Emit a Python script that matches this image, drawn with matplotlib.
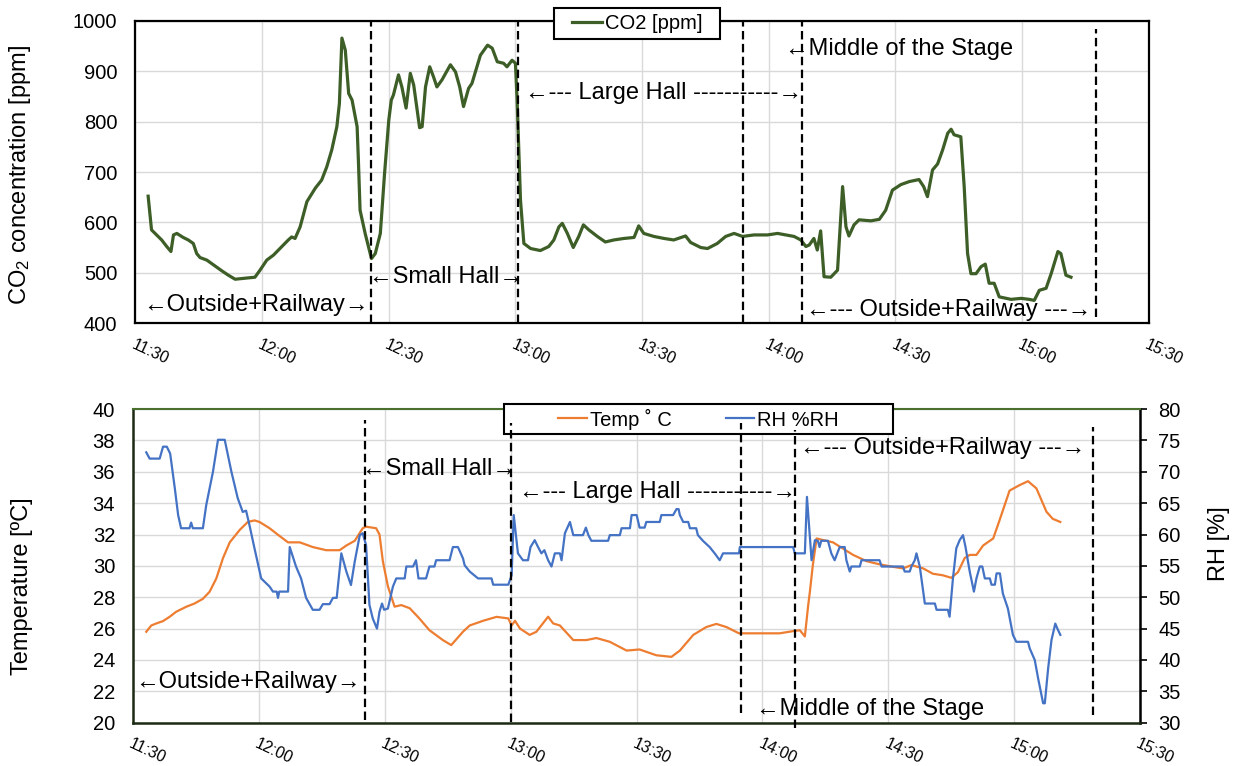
import matplotlib
matplotlib.use("Agg")
import matplotlib.pyplot as plt
from matplotlib.patches import Rectangle

plt.rcParams["font.family"] = ["Liberation Sans", "DejaVu Sans"]
plt.rcParams["mathtext.fontset"] = "custom"
plt.rcParams["mathtext.rm"] = "Liberation Sans"
plt.rcParams["mathtext.it"] = "Liberation Sans:italic"

# time axis in minutes after 11:30
tick_minutes = [0, 30, 60, 90, 120, 150, 180, 210, 240]
tick_labels = ["11:30", "12:00", "12:30", "13:00", "13:30", "14:00", "14:30", "15:00", "15:30"]

co2_t = [3.0, 3.8, 5.0, 6.2, 7.4, 8.4, 9.0, 9.8, 11.3, 12.5, 13.7, 14.5, 15.3, 16.9, 18.9, 20.4,
         22.0, 23.6, 26.0, 28.3, 29.5, 31.1, 32.7, 34.7, 36.2, 37.0, 37.8, 39.0, 40.6, 42.6, 44.1,
         45.3, 46.5, 47.7, 48.3, 48.9, 49.7, 50.5, 51.3, 52.5, 52.8, 53.2, 54.4, 55.9, 56.8, 58.0,
         59.0, 60.0, 60.6, 61.1, 62.3, 63.1, 64.1, 65.1, 65.9, 67.3, 67.9, 68.7, 69.7, 70.6, 71.4,
         72.6, 74.6, 75.8, 76.8, 77.7, 78.9, 79.7, 81.7, 83.4, 84.5, 85.7, 87.2, 88.0, 89.2, 90.0,
         90.4, 91.2, 92.0, 93.6, 95.9, 97.9, 99.1, 100.3, 101.1, 102.3, 103.7, 105.0, 106.1, 107.4,
         109.4, 111.3, 113.3, 115.7, 118.1, 119.2, 120.4, 122.8, 125.2, 127.5, 130.3, 131.5, 133.9,
         135.5, 137.8, 139.8, 141.8, 143.8, 146.5, 149.7, 152.1, 156.0, 157.6, 158.8, 159.6, 160.7,
         161.5, 162.3, 163.1, 164.7, 166.3, 167.5, 168.3, 169.0, 170.2, 171.4, 174.2, 176.2, 177.7,
         179.3, 181.3, 183.3, 185.6, 186.7, 187.6, 188.8, 190.0, 191.2, 192.4, 193.2, 193.9, 195.5,
         196.3, 197.1, 197.9, 199.1, 200.3, 201.3, 202.2, 203.4, 204.6, 207.4, 209.8, 211.7, 212.9,
         214.1, 215.7, 216.9, 218.5, 219.2, 220.4, 221.6]
co2_ppm = [652, 585, 575, 565, 552, 542, 575, 578, 570, 565, 558, 538, 530, 525, 513, 504,
           495, 487, 489, 491, 505, 525, 535, 552, 565, 571, 568, 591, 641, 668, 684,
           710, 744, 790, 836, 966, 942, 856, 843, 790, 724, 624, 578, 528, 538, 578,
           697, 803, 843, 853, 893, 869, 827, 896, 873, 788, 790, 869, 909, 889, 869,
           883, 913, 899, 869, 830, 866, 876, 932, 952, 946, 919, 916, 909, 922, 916,
           843, 644, 558, 548, 544, 552, 565, 591, 598, 578, 550, 572, 595, 585,
           572, 561, 565, 568, 570, 593, 578, 572, 568, 565, 573, 560, 550,
           548, 558, 572, 578, 572, 575, 575, 578, 572, 565, 552, 555, 568,
           545, 583, 492, 491, 505, 671, 591, 573, 595, 605, 603, 606, 624,
           664, 675, 681, 685, 671, 651, 704, 716, 744, 777, 785, 774, 770,
           671, 538, 498, 498, 512, 517, 479, 479, 452, 447, 449, 447, 445,
           465, 469, 498, 542, 538, 495, 491]

temp_t = [3.1, 4.3, 5.5, 7.1, 8.7, 10.2, 12.6, 14.6, 16.6, 18.2, 19.8, 21.4, 23.0, 25.4, 27.3,
          28.9, 30.1, 32.5, 34.9, 36.9, 39.7, 42.8, 46.0, 49.2, 50.8, 52.8, 54.7, 55.5, 57.9,
          58.7, 59.5, 60.7, 62.3, 63.9, 65.9, 68.2, 70.6, 73.8, 75.8, 78.6, 80.2, 83.4, 86.6,
          89.4, 90.2, 91.0, 92.2, 94.5, 96.1, 98.9, 100.1, 101.7, 104.9, 108.0, 110.4, 113.6,
          117.6, 120.7, 124.7, 128.3, 130.3, 133.5, 136.6, 139.0, 141.4, 144.4, 149.3, 154.1,
          157.3, 158.9, 160.1, 160.9, 161.3, 162.0, 162.9, 164.4, 166.8, 169.2, 171.6, 174.8,
          177.9, 181.1, 183.5, 185.5, 188.3, 190.6, 193.0, 195.0, 196.6, 198.2, 199.4, 201.0,
          202.6, 205.0, 206.5, 208.9, 211.3, 213.3, 215.3, 217.7, 219.2, 221.0]
temp_c = [25.8, 26.2, 26.33, 26.48, 26.76, 27.07, 27.39, 27.6, 27.9, 28.35, 29.2, 30.5, 31.5, 32.3, 32.8,
          32.9, 32.8, 32.4, 31.9, 31.5, 31.5, 31.2, 31.0, 31.0, 31.3, 31.6, 32.4, 32.5, 32.4,
          32.0, 30.3, 28.7, 27.4, 27.5, 27.3, 26.65, 25.9, 25.27, 24.95, 25.8, 26.2, 26.5, 26.75,
          26.65, 26.2, 26.5, 26.0, 25.6, 25.8, 26.76, 26.33, 26.2, 25.27, 25.27, 25.4, 25.16,
          24.6, 24.67, 24.3, 24.2, 24.6, 25.6, 26.1, 26.3, 26.1, 25.7, 25.7, 25.7,
          25.84, 25.9, 25.5, 27.5, 28.35, 30.05, 31.75, 31.65, 31.5, 31.1, 30.7, 30.3,
          30.1, 29.94, 29.84, 30.05, 29.84, 29.5, 29.4, 29.24, 29.6, 30.5, 30.7, 30.7,
          31.3, 31.75, 32.9, 34.8, 35.15, 35.4, 34.94, 33.45, 33.0, 32.8]

rh_t = [3.1, 3.9, 6.3, 7.1, 8.0, 8.8, 9.9, 10.7, 11.4, 13.4, 13.8, 14.2, 16.6, 17.4, 19.0, 20.2,
        21.8, 23.4, 24.9, 26.1, 26.9, 27.7, 28.9, 30.5, 32.5, 33.3, 34.2, 34.5, 34.8, 36.9, 37.3,
        38.8, 40.0, 41.2, 42.8, 44.4, 45.2, 46.8, 47.6, 48.5, 49.6, 50.8, 51.9, 52.8, 54.0, 54.7,
        55.5, 56.3, 57.1, 58.1, 58.7, 59.3, 59.8, 60.7, 61.9, 62.7, 64.7, 65.1, 66.7, 67.4, 68.0,
        69.8, 70.6, 71.8, 72.2, 75.4, 76.2, 77.4, 78.6, 79.0, 80.2, 82.2, 85.4, 85.8, 89.4, 90.2,
        90.7, 91.7, 92.9, 94.1, 94.7, 95.7, 96.5, 97.3, 98.0, 98.9, 99.7, 100.5, 101.7, 102.1,
        102.9, 104.1, 104.9, 107.2, 107.9, 108.5, 109.2, 113.2, 113.6, 116.0, 116.4, 118.4, 118.8,
        120.0, 120.7, 121.9, 122.3, 125.5, 125.9, 128.7, 129.5, 130.0, 130.3, 131.1, 132.3, 132.7,
        134.2, 134.6, 135.8, 137.4, 138.6, 139.8, 140.6, 144.4, 144.6, 157.3, 157.7, 160.1, 160.6,
        161.7, 162.5, 163.2, 163.6, 164.0, 165.6, 166.4, 167.2, 168.4, 169.6, 170.0, 170.8, 171.2,
        173.2, 173.6, 177.9, 178.4, 183.5, 183.9, 185.1, 185.5, 186.3, 186.7, 187.5, 188.3, 188.7,
        191.1, 191.5, 194.2, 194.6, 195.4, 196.2, 197.0, 197.8, 198.4, 199.4, 200.4, 201.0, 201.8,
        202.4, 203.0, 204.2, 204.6, 205.4, 205.8, 206.6, 207.3, 208.5, 209.7, 210.5, 213.3, 213.7,
        214.9, 215.7, 216.9, 217.3, 218.1, 218.9, 219.8, 220.3, 221.0]
rh_pct = [73.1, 72.1, 72.1, 74.0, 74.0, 72.9, 67.4, 63.1, 61.0, 61.0, 61.9, 61.0, 61.0, 64.7, 70.0, 75.1,
          75.1, 70.0, 65.8, 63.6, 63.8, 61.5, 57.8, 53.0, 51.7, 50.9, 50.9, 49.9, 50.9, 50.9, 58.0,
          54.9, 53.0, 49.9, 48.0, 48.0, 48.9, 48.9, 49.9, 49.9, 57.0, 54.1, 51.95, 55.7, 59.9, 60.2,
          58.3, 48.8, 46.6, 45.0, 47.7, 49.0, 48.0, 48.2, 51.7, 53.0, 53.0, 54.9, 54.9, 55.9, 53.0,
          53.0, 54.9, 54.9, 55.9, 55.9, 58.0, 58.0, 56.2, 55.1, 54.1, 53.0, 53.0, 52.0, 52.0, 53.5,
          63.1, 57.0, 55.9, 55.9, 58.0, 59.1, 58.0, 57.0, 57.5, 55.9, 54.9, 57.0, 57.0, 55.9,
          60.2, 62.0, 59.9, 59.9, 61.1, 59.9, 59.0, 59.0, 59.9, 59.9, 61.0, 61.0, 63.1,
          63.1, 61.1, 61.1, 62.0, 62.0, 63.1, 63.1, 64.05, 64.05, 63.1, 62.0, 62.0, 61.0,
          61.0, 59.9, 59.0, 58.0, 57.0, 55.9, 57.0, 57.0, 58.0, 58.0, 57.0, 57.0, 66.0,
          55.9, 59.1, 59.0, 58.0, 59.0, 59.0, 57.0, 55.9, 58.0, 58.0, 55.9, 54.1, 54.9,
          54.9, 55.9, 55.9, 54.9, 54.9, 54.1, 54.1, 54.9, 55.9, 57.0, 54.9, 50.9, 49.0,
          49.0, 48.0, 48.0, 46.9, 53.0, 57.8, 59.1, 59.9, 58.0, 54.1, 50.9, 53.0, 54.9,
          54.9, 53.0, 53.0, 52.0, 52.0, 53.8, 53.8, 50.6, 48.2, 44.0, 42.9, 42.9, 41.85,
          40.0, 37.1, 33.1, 33.1, 38.7, 43.2, 45.8, 45.0, 44.0]

# moments the sensor moved to a new location (minutes after 11:30)
co2_moves = [55.8, 90.5, 143.8, 157.8, 227.5]
trh_moves = [55.3, 90.1, 144.8, 157.7, 228.8]

GREEN = "#3d5e27"
ORANGE = "#ed7d31"
BLUE = "#4472c4"
GRID = "#d9d9d9"
DASH = (0, (3.8, 2.0))
TXT = 17


def style_time_axis(ax):
    ax.set_xlim(0, 240)
    ax.set_xticks(tick_minutes)
    ax.set_xticklabels(tick_labels)
    ax.tick_params(axis="x", length=0, pad=10, labelsize=11.5)
    plt.setp(ax.get_xticklabels(), rotation=-25, ha="left", va="top", rotation_mode="anchor")
    ax.grid(color=GRID, lw=1)
    ax.set_axisbelow(True)


def legend_box(ax, x0, y0, x1, y1):
    # white frame in figure pixels; hides the spine under it
    w, h = 1235.0, 766.0
    ax.add_patch(Rectangle((x0 / w, 1 - y1 / h), (x1 - x0) / w, (y1 - y0) / h,
                           transform=ax.figure.transFigure, clip_on=False,
                           facecolor="white", edgecolor="black", lw=1.5, zorder=4.5))


fig = plt.figure(figsize=(12.35, 7.66), dpi=100)

# ---- CO2 panel ----
ax1 = fig.add_axes([0.1097, 0.5783, 0.8204, 0.3943])
ax1.plot(co2_t, co2_ppm, color=GREEN, lw=2.3, label="CO2 [ppm]", zorder=3)
spans = [(0, 1), (0, 1), (0, 1), (0, 1), (0.02, 0.973)]
for t, (lo, hi) in zip(co2_moves, spans):
    ax1.axvline(t, lo, hi, color="black", lw=1.6, ls=DASH, zorder=4)
style_time_axis(ax1)
ax1.set_ylim(400, 1000)
ax1.set_yticks(range(400, 1001, 100))
ax1.tick_params(axis="y", length=0, pad=13, labelsize=14.5)
ax1.set_ylabel("CO$_2$ concentration [ppm]", fontsize=TXT)
ax1.yaxis.set_label_coords(-0.101, 0.49)
for sp in ax1.spines.values():
    sp.set_linewidth(1.6)
    sp.set_color("black")

ax1.text(1.8, 436, "←Outside+Railway→", fontsize=TXT, va="center")
ax1.text(55.4, 491, "←Small Hall→", fontsize=TXT, va="center")
ax1.text(92.3, 857, "←--- Large Hall -----------→", fontsize=TXT, va="center")
ax1.text(153.8, 944, "←Middle of the Stage", fontsize=TXT, va="center")
ax1.text(158.8, 426, "←--- Outside+Railway ---→", fontsize=TXT, va="center")

legend_box(ax1, 554, 8, 720, 39)
ax1.legend(loc="center", bbox_to_anchor=(637 / 1235, 1 - 23.5 / 766), bbox_transform=fig.transFigure,
           fontsize=14.5, frameon=False, handlelength=1.5, handletextpad=0.15, borderaxespad=0)

# ---- temperature / RH panel ----
ax2 = fig.add_axes([0.1079, 0.0565, 0.8152, 0.4095])
ax3 = ax2.twinx()
ax2.plot(temp_t, temp_c, color=ORANGE, lw=1.6, label="Temp ˚ C")
ax3.plot(rh_t, rh_pct, color=BLUE, lw=1.6, label="RH %RH", zorder=3)
style_time_axis(ax2)
ax2.set_ylim(20, 40)
ax2.set_yticks(range(20, 41, 2))
ax2.tick_params(axis="y", length=0, pad=13, labelsize=14.5)
ax3.set_ylim(30, 80)
ax3.set_yticks(range(30, 81, 5))
ax3.tick_params(axis="y", length=5, width=1.2, direction="out", pad=8, labelsize=14.5)
ax2.set_ylabel("Temperature [ºC]", fontsize=TXT)
ax2.yaxis.set_label_coords(-0.0996, 0.434)
ax3.set_ylabel("RH [%]", fontsize=TXT)
ax3.yaxis.set_label_coords(1.0676, 0.57)
for sp in ax2.spines.values():
    sp.set_visible(False)
ax3.spines["top"].set_color("#4a7030")
ax3.spines["top"].set_linewidth(1.5)
for side in ("left", "bottom"):
    ax3.spines[side].set_color("#1c2a14")
    ax3.spines[side].set_linewidth(1.8)
ax3.spines["right"].set_color("black")
ax3.spines["right"].set_linewidth(1.8)

spans = [(0.009, 0.965), (0.002, 0.955), (0.031, 0.955), (-0.017, 0.933), (0.025, 0.943)]
for t, (lo, hi) in zip(trh_moves, spans):
    ax3.axvline(t, lo, hi, color="black", lw=1.6, ls=DASH, zorder=6, clip_on=False)

ax2.text(0.4, 22.6, "←Outside+Railway→", fontsize=TXT, va="center")
ax2.text(54.5, 36.2, "←Small Hall→", fontsize=TXT, va="center")
ax2.text(91.9, 34.7, "←--- Large Hall -----------→", fontsize=TXT, va="center")
ax2.text(158.9, 37.5, "←--- Outside+Railway ---→", fontsize=TXT, va="center")
ax2.text(148.4, 20.9, "←Middle of the Stage", fontsize=TXT, va="center")

# legend box sits over the top spine, the dashed markers run through it
legend_box(ax3, 504, 404, 893, 434)
handles = ax2.get_lines()[:1] + ax3.get_lines()[:1]
ax3.legend(handles, [h.get_label() for h in handles], loc="center", ncol=2,
           bbox_to_anchor=(0.5656, 0.453), bbox_transform=fig.transFigure, frameon=False,
           fontsize=14.5, handlelength=1.4, handletextpad=0.15, columnspacing=2.7, borderaxespad=0)

fig.savefig("out.png", dpi=100)
